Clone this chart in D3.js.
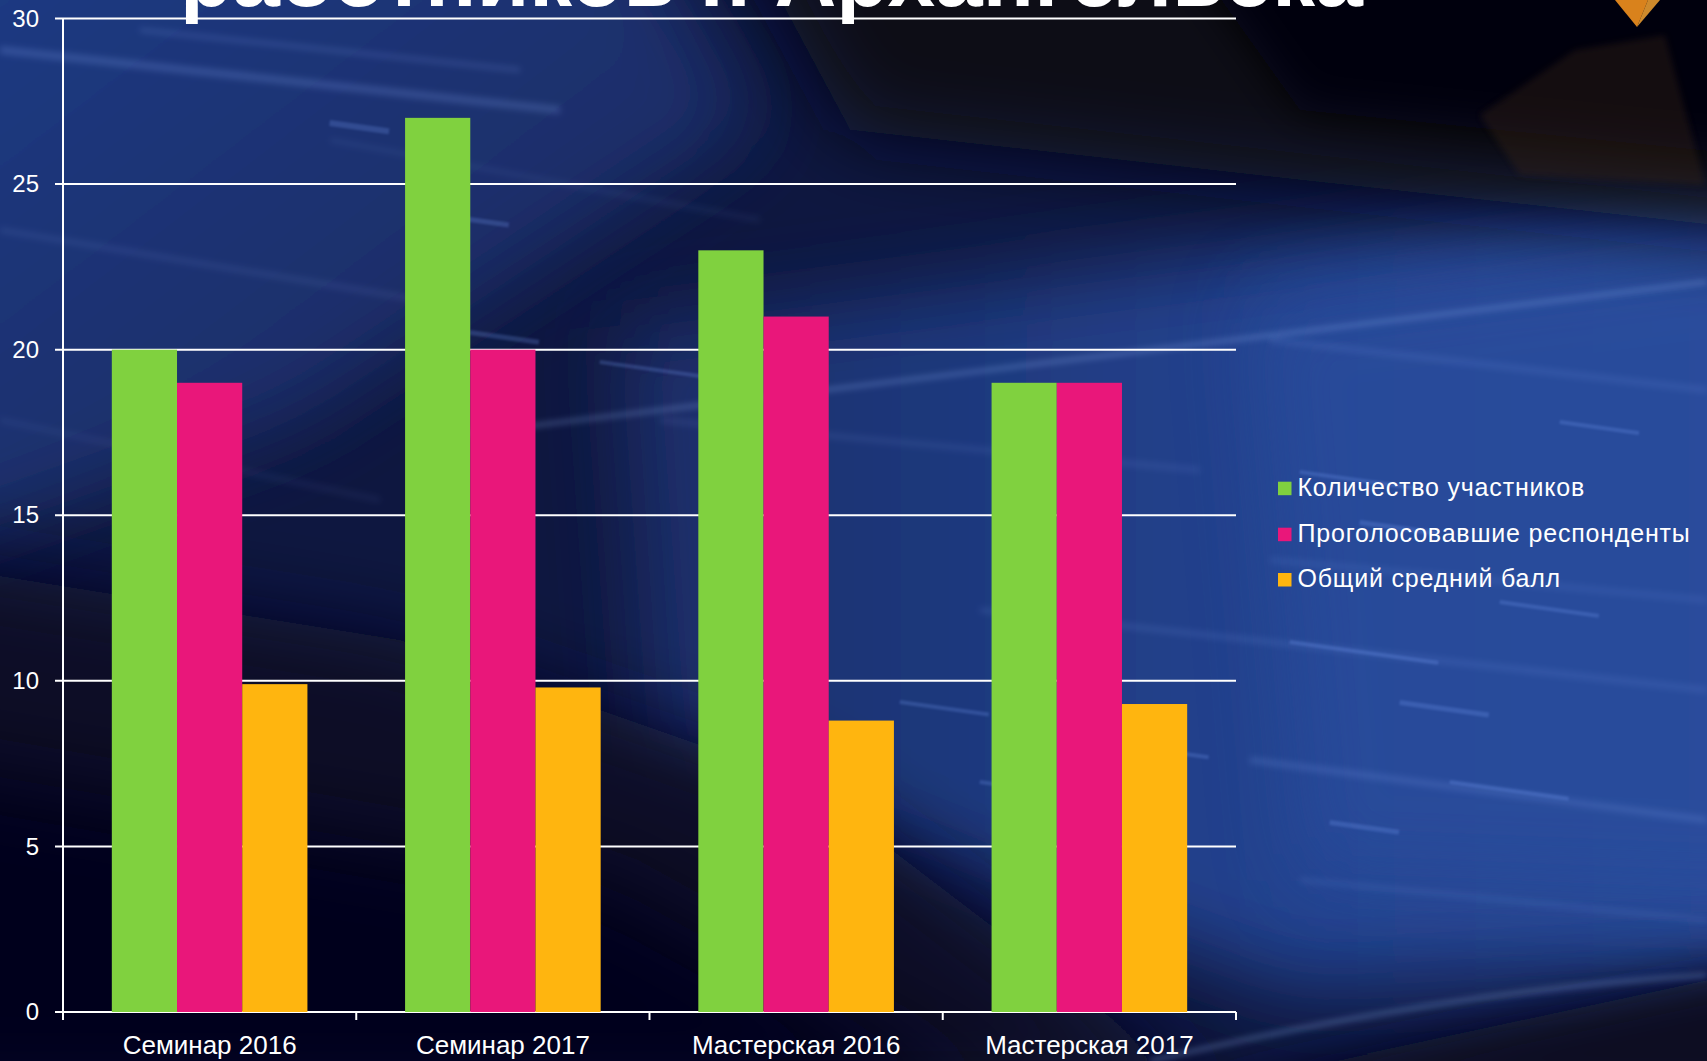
<!DOCTYPE html>
<html><head><meta charset="utf-8">
<script src="https://cdn.jsdelivr.net/npm/d3@7"></script>
<style>
html,body{margin:0;padding:0;background:#070820;overflow:hidden;}
svg{display:block;}
text{font-family:"Liberation Sans",Arial,sans-serif;fill:#fff;}
</style></head>
<body>
<script>
// ---- data ----
const categories = ["Семинар 2016", "Семинар 2017", "Мастерская 2016", "Мастерская 2017"];
const seriesNames = ["Количество участников", "Проголосовавшие респонденты", "Общий средний балл"];
const participants = [20, 27, 23, 19];
const respondents = [19, 20, 21, 19];
const avgScore = [9.9, 9.8, 8.8, 9.3];
const yTicks = [0, 5, 10, 15, 20, 25, 30];
const titleText = "работников г. Архангельска";

const seriesValues = [participants, respondents, avgScore];
const colors = ["#80d13f", "#e9177a", "#ffb50f"];

const W = 1707, H = 1061;
const plot = {left: 63, right: 1236, top: 18.5, bottom: 1012};

const svg = d3.select("body").append("svg").attr("width", W).attr("height", H);
const defs = svg.append("defs");

// ---- background ----
function lg(id, x1, y1, x2, y2, stops) {
  const g = defs.append("linearGradient").attr("id", id)
    .attr("x1", x1).attr("y1", y1).attr("x2", x2).attr("y2", y2);
  stops.forEach(s => g.append("stop").attr("offset", s[0]).attr("stop-color", s[1]).attr("stop-opacity", s[2] == null ? 1 : s[2]));
}
lg("gUL", "0", "0", "1", "1", [[0, "#213d88"], [0.6, "#1a2e6a"], [1, "#162860"]]);
lg("gRight", "0", "0", "1", "0", [[0, "#1a2d68"], [0.5, "#22418c"], [1, "#2a4b9a"]]);
function blurF(id, sd) {
  const f = defs.append("filter").attr("id", id).attr("x", "-40%").attr("y", "-40%").attr("width", "180%").attr("height", "180%");
  f.append("feGaussianBlur").attr("stdDeviation", sd);
}
blurF("blurL", 40); blurF("blur", 22); blurF("blurS", 3); blurF("blurXS", 1.2);

const bg = svg.append("g");
bg.append("rect").attr("width", W).attr("height", H).attr("fill", "#0e1740");
bg.append("polygon").attr("points", "-100,-100 620,-100 760,120 300,420 -100,560")
  .attr("fill", "url(#gUL)").attr("filter", "url(#blurL)");
bg.append("polygon").attr("points", "620,330 1250,250 1800,170 1800,960 1300,990 650,760")
  .attr("fill", "url(#gRight)").attr("filter", "url(#blurL)");
bg.append("polygon").attr("points", "1250,300 1800,230 1800,900 1300,880")
  .attr("fill", "#2b4d9e").attr("opacity", 0.7).attr("filter", "url(#blurL)");
bg.append("polygon").attr("points", "700,-150 1850,-150 1850,240 1300,180 850,130")
  .attr("fill", "#070919").attr("filter", "url(#blurL)");
bg.append("polygon").attr("points", "1150,-100 1800,-100 1800,160 1300,110")
  .attr("fill", "#03040c").attr("filter", "url(#blur)");
bg.append("polygon").attr("points", "-100,560 400,640 800,780 1220,1100 -100,1100")
  .attr("fill", "#0a0c26").attr("filter", "url(#blurL)");
bg.append("polygon").attr("points", "-100,760 600,880 1000,1100 -100,1100")
  .attr("fill", "#05051a").attr("filter", "url(#blurL)");
bg.append("polygon").attr("points", "1150,1100 1800,960 1800,1100")
  .attr("fill", "#070920").attr("filter", "url(#blur)");

// faint tech streaks (decoration)
const streaks = [
  [0, 50, 560, 110, 0.20, 8], [140, 30, 520, 70, 0.16, 5], [0, 230, 420, 300, 0.10, 6],
  [330, 140, 760, 220, 0.08, 5], [660, 420, 1200, 470, 0.10, 6],
  [980, 610, 1707, 690, 0.14, 5], [1250, 760, 1707, 820, 0.18, 6], [1300, 880, 1707, 920, 0.14, 4],
  [1270, 340, 1707, 390, 0.14, 5], [1270, 560, 1707, 600, 0.12, 5], [0, 420, 380, 500, 0.07, 6]
];
bg.selectAll("line.st").data(streaks).join("line")
  .attr("x1", d => d[0]).attr("y1", d => d[1]).attr("x2", d => d[2]).attr("y2", d => d[3])
  .attr("stroke", "#8fb0ff").attr("stroke-opacity", d => d[4]).attr("stroke-width", d => d[5])
  .attr("filter", "url(#blurS)");
const blocks = [
  [330, 120, 60, 6], [420, 210, 90, 5], [470, 330, 70, 5], [600, 360, 110, 4],
  [1300, 470, 120, 4], [1360, 520, 80, 5], [1290, 640, 150, 4], [1400, 700, 90, 5],
  [1450, 780, 120, 4], [1330, 820, 70, 5], [1500, 600, 100, 4], [1560, 420, 80, 4],
  [900, 700, 90, 4], [980, 780, 70, 4], [1100, 740, 110, 4]
];
bg.selectAll("rect.bl").data(blocks).join("rect")
  .attr("x", d => d[0]).attr("y", d => d[1]).attr("width", d => d[2]).attr("height", d => d[3])
  .attr("fill", "#7fa6ff").attr("opacity", 0.22)
  .attr("transform", d => `rotate(8,${d[0]},${d[1]})`).attr("filter", "url(#blurXS)");
bg.append("line").attr("x1", 415).attr("y1", 440).attr("x2", 1707).attr("y2", 282)
  .attr("stroke", "#9fc0ff").attr("stroke-opacity", 0.4).attr("stroke-width", 3).attr("filter", "url(#blurS)");
bg.append("path").attr("d", "M1150,1061 Q1450,990 1707,975")
  .attr("fill", "none").attr("stroke", "#7fa0d8").attr("stroke-opacity", 0.45).attr("stroke-width", 4).attr("filter", "url(#blurS)");
bg.append("polygon").attr("points", "1480,115 1575,50 1665,35 1705,185 1520,175")
  .attr("fill", "#3b2518").attr("opacity", 0.35).attr("filter", "url(#blurS)");
bg.append("polygon").attr("points", "1615,0 1648,0 1637,27").attr("fill", "#d9821c");
bg.append("polygon").attr("points", "1637,27 1648,0 1660,0").attr("fill", "#f2a233").attr("opacity", 0.85);

// ---- title (cropped at top, as in the source slide) ----
const title = svg.append("text").attr("x", 180).attr("y", 6)
  .attr("font-weight", "bold").attr("font-size", 100).text(titleText);
const tl = title.node().getComputedTextLength();
title.attr("font-size", 100 * 1183 / tl);

// ---- scales ----
const y = d3.scaleLinear().domain([0, 30]).range([plot.bottom, plot.top]);
const x0 = d3.scaleBand().domain(categories).range([plot.left, plot.right]).padding(0);
const bw = x0.bandwidth();
const x1 = d3.scaleBand().domain(seriesNames).range([bw * 0.1665, bw * 0.8335]).padding(0);

const g = svg.append("g");
g.selectAll("line.grid").data(yTicks).join("line")
  .attr("x1", plot.left - 8).attr("x2", plot.right)
  .attr("y1", d => y(d)).attr("y2", d => y(d))
  .attr("stroke", "#ffffff").attr("stroke-width", 2);

const groups = g.selectAll("g.cat").data(categories).join("g")
  .attr("transform", d => `translate(${x0(d)},0)`);
groups.selectAll("rect").data((c, i) => seriesNames.map((s, j) => ({s, j, v: seriesValues[j][i]})))
  .join("rect")
  .attr("x", d => x1(d.s)).attr("width", x1.bandwidth())
  .attr("y", d => y(d.v)).attr("height", d => y(0) - y(d.v))
  .attr("fill", d => colors[d.j]);

const yAxis = d3.axisLeft(y).tickValues(yTicks).tickSize(8).tickPadding(16);
const ya = g.append("g").attr("transform", `translate(${plot.left},0)`).call(yAxis);
ya.select(".domain").remove();
ya.selectAll(".tick line").remove();
ya.selectAll(".tick text").attr("font-size", 24).attr("fill", "#fff")
  .attr("font-family", "Liberation Sans, Arial, sans-serif");
g.append("line").attr("x1", plot.left).attr("x2", plot.left)
  .attr("y1", y(30)).attr("y2", y(0)).attr("stroke", "#fff").attr("stroke-width", 2);

const xAxis = d3.axisBottom(x0).tickSize(0).tickPadding(0);
const xa = g.append("g").attr("transform", `translate(0,${plot.bottom})`).call(xAxis);
xa.select(".domain").remove();
xa.selectAll(".tick text").attr("font-size", 26).attr("fill", "#fff").attr("dy", 0).attr("y", 42)
  .attr("font-family", "Liberation Sans, Arial, sans-serif");
const bounds = categories.map(c => x0(c)).concat([plot.right]);
g.selectAll("line.xt").data(bounds).join("line")
  .attr("x1", d => d).attr("x2", d => d)
  .attr("y1", plot.bottom).attr("y2", plot.bottom + 8)
  .attr("stroke", "#fff").attr("stroke-width", 2);

// legend
const leg = svg.append("g");
const legY = [495.7, 541.7, 587];
seriesNames.forEach((s, i) => {
  leg.append("rect").attr("x", 1278).attr("y", legY[i] - 14).attr("width", 13.5).attr("height", 13.5).attr("fill", colors[i]);
  leg.append("text").attr("x", 1297.5).attr("y", legY[i]).attr("font-size", 25)
    .attr("letter-spacing", 0.8).text(s);
});
</script>
</body></html>
